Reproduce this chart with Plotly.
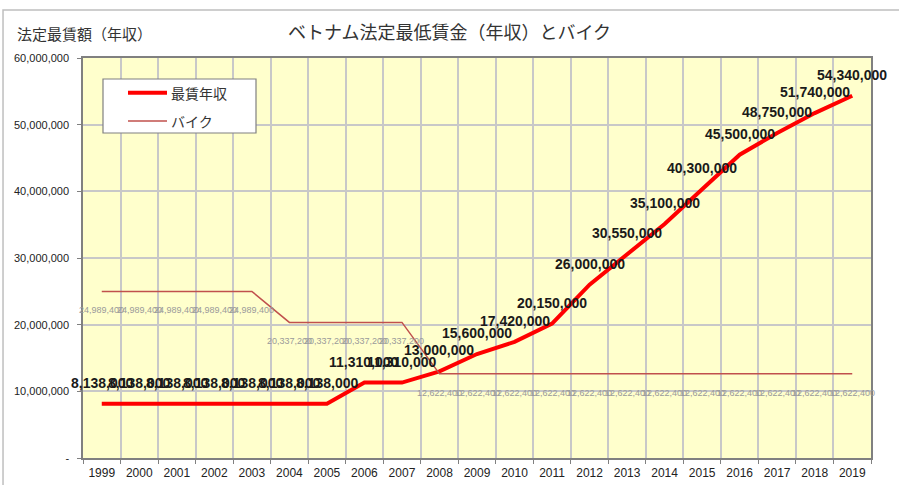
import plotly.graph_objects as go

years = [str(y) for y in range(1999, 2020)]
wage = [8138000, 8138000, 8138000, 8138000, 8138000, 8138000, 8138000,
        11310000, 11310000, 13000000, 15600000, 17420000, 20150000,
        26000000, 30550000, 35100000, 40300000, 45500000, 48750000,
        51740000, 54340000]
bike = [24989400, 24989400, 24989400, 24989400, 24989400,
        20337200, 20337200, 20337200, 20337200,
        12622400, 12622400, 12622400, 12622400, 12622400, 12622400,
        12622400, 12622400, 12622400, 12622400, 12622400, 12622400]
ytick_vals = [0, 10000000, 20000000, 30000000, 40000000, 50000000, 60000000]
ytick_text = ["-", "10,000,000", "20,000,000", "30,000,000", "40,000,000",
              "50,000,000", "60,000,000"]

title_text = "ベトナム法定最低賃金（年収）とバイク"
ytitle_text = "法定最賃額（年収）"
wage_name = "最賃年収"
bike_name = "バイク"

JP = "Noto Sans CJK JP, sans-serif"
NUM = "Liberation Sans, Arial, sans-serif"
WAGE_COLOR = "#FF0000"
BIKE_COLOR = "#C0504D"

fig = go.Figure()
fig.add_trace(go.Scatter(x=years, y=wage, mode="lines", name=wage_name,
                         line=dict(color=WAGE_COLOR, width=4),
                         showlegend=False, hoverinfo="skip"))
fig.add_trace(go.Scatter(x=years, y=bike, mode="lines", name=bike_name,
                         line=dict(color=BIKE_COLOR, width=1.5),
                         showlegend=False, hoverinfo="skip"))

annotations = []
for i, v in enumerate(bike):
    annotations.append(dict(x=i, y=v, text=f"{v:,}", showarrow=False,
                            yshift=-19, yanchor="middle",
                            font=dict(family=NUM, size=9, color="#9A9A9A")))
for i, v in enumerate(wage):
    annotations.append(dict(x=i, y=v, text=f"<b>{v:,}</b>", showarrow=False,
                            yshift=21, yanchor="middle",
                            font=dict(family=NUM, size=14, color="#1a1a1a")))
annotations.append(dict(xref="paper", yref="paper", x=-0.0863, y=1.0625,
                        xanchor="left", yanchor="middle", showarrow=False,
                        text=ytitle_text,
                        font=dict(family=JP, size=15, color="#333333")))
# legend (drawn as box + samples + labels)
for name, ly in ((wage_name, 0.91325), (bike_name, 0.8425)):
    annotations.append(dict(xref="paper", yref="paper", x=0.1091, y=ly,
                            xanchor="left", yanchor="middle", showarrow=False,
                            text=name,
                            font=dict(family=JP, size=14, color="#333333")))

shapes = [
    dict(type="rect", xref="paper", yref="paper",
         x0=-0.1015, x1=1.05, y0=-0.1, y1=1.12,
         line=dict(color="#BFBFBF", width=1.5), layer="below"),
    dict(type="rect", xref="paper", yref="paper",
         x0=0.02538, x1=0.21954, y0=0.8125, y1=0.9475,
         fillcolor="white", line=dict(color="#808080", width=1.2), layer="above"),
    dict(type="line", xref="paper", yref="paper",
         x0=0.05711, x1=0.1066, y0=0.91325, y1=0.91325,
         line=dict(color=WAGE_COLOR, width=4)),
    dict(type="line", xref="paper", yref="paper",
         x0=0.05711, x1=0.1066, y0=0.8425, y1=0.8425,
         line=dict(color=BIKE_COLOR, width=1.5)),
]

fig.update_layout(
    width=899, height=485,
    margin=dict(l=83, r=28, t=58, b=27, autoexpand=False),
    paper_bgcolor="white",
    plot_bgcolor="#FFFFCC",
    title=dict(text=title_text, x=0.5, xref="container", xanchor="center",
               y=1 - 33 / 485, yref="container", yanchor="middle",
               font=dict(family=JP, size=18, color="#333333")),
    showlegend=False,
    annotations=annotations,
    shapes=shapes,
)
fig.update_xaxes(type="category", range=[-0.5, 20.5], tickson="boundaries",
                 showgrid=True, gridcolor="#C8C8C8", gridwidth=1.5,
                 showline=True, linecolor="#808080", linewidth=1.5, mirror=True,
                 ticks="outside", ticklen=4, tickcolor="#808080",
                 ticklabelstandoff=3,
                 tickfont=dict(family=NUM, size=12, color="#222222"))
fig.update_yaxes(range=[0, 60000000], tickvals=ytick_vals, ticktext=ytick_text,
                 showgrid=True, gridcolor="#C8C8C8", gridwidth=1.5,
                 showline=True, linecolor="#808080", linewidth=1.5, mirror=True,
                 ticks="outside", ticklen=4, tickcolor="#808080",
                 ticklabelstandoff=6, zeroline=False,
                 tickfont=dict(family=NUM, size=11, color="#222222"))

fig.write_html("out.html", config={"displayModeBar": False},
               post_script="document.body.style.margin='0';document.body.style.overflow='hidden';")
